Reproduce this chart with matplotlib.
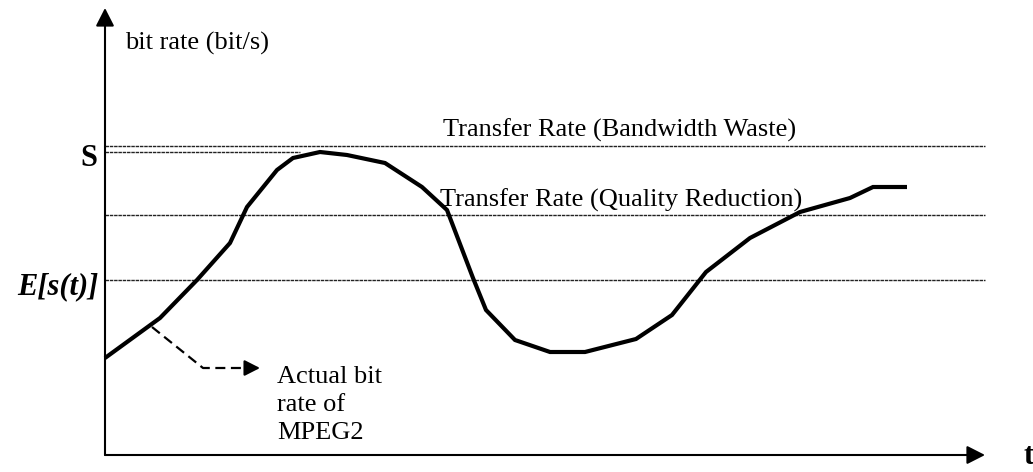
import matplotlib
matplotlib.use("Agg")
import matplotlib.pyplot as plt

# Actual bit rate of MPEG2 (time, bit rate) in arbitrary units
time = [0, 55, 92, 125, 142, 172, 188, 215, 242, 280, 317, 342, 368, 381,
        410, 445, 480, 531, 567, 601, 645, 695, 745, 768, 802]
rate = [97, 137, 175, 212, 248, 285, 297, 303, 300, 292, 268, 245, 177, 145,
        115, 103, 103, 116, 140, 183, 217, 243, 257, 268, 268]

# Reference levels
level_names = ["Transfer Rate (Bandwidth Waste)", "S", "Transfer Rate (Quality Reduction)", "E[s(t)]"]
level_values = [309, 303, 240, 175]
level_ends = [880, 195, 880, 880]

plt.rcParams['font.family'] = ['Liberation Serif', 'DejaVu Serif']

fig = plt.figure(figsize=(10.33, 4.72), dpi=100)
ax = fig.add_axes([0, 0, 1, 1])
ax.set_xlim(-105, 928)
ax.set_ylim(-17, 455)
ax.axis('off')

# horizontal reference lines
for v, e in zip(level_values, level_ends):
    ax.plot([0, e], [v, v], color='#222222', lw=1.0, ls=(0, (2.5, 0.6)), zorder=1)

# curve
ax.plot(time, rate, color='black', lw=3, solid_joinstyle='miter', solid_capstyle='butt', zorder=3)

# axes arrows
head = '-|>,head_length=0.55,head_width=0.28'
ax.annotate('', xy=(0, 447), xytext=(0, 0),
            arrowprops=dict(arrowstyle=head, color='black',
                            lw=1.5, mutation_scale=20, shrinkA=0, shrinkB=0))
ax.annotate('', xy=(880, 0), xytext=(0, 0),
            arrowprops=dict(arrowstyle=head, color='black',
                            lw=1.5, mutation_scale=20, shrinkA=0, shrinkB=0))

# dashed pointer
ax.plot([47, 98, 146], [128, 87, 87], color='black', lw=1.6, ls=(0, (4.5, 2.5)),
        solid_joinstyle='miter')
ax.annotate('', xy=(155, 87), xytext=(142, 87),
            arrowprops=dict(arrowstyle=head, color='black',
                            lw=1.6, mutation_scale=17, shrinkA=0, shrinkB=0))

fs = 19
ax.text(20, 412, 'bit rate (bit/s)', fontsize=fs, va='center', ha='left')
ax.text(338, 325, level_names[0], fontsize=fs, va='center', ha='left')
ax.text(335, 255, level_names[2], fontsize=fs, va='center', ha='left')
ax.text(172, 50, 'Actual bit\nrate of\nMPEG2', fontsize=fs, va='center', ha='left',
        linespacing=1.38)
ax.text(-8, 297, level_names[1], fontsize=22, fontweight='bold', va='center', ha='right')
ax.text(-7, 168, level_names[3], fontsize=22, fontweight='bold', fontstyle='italic',
        va='center', ha='right')
ax.text(918, -2, 't', fontsize=22, fontweight='bold', va='center', ha='left')

fig.savefig('out.png', dpi=100)
